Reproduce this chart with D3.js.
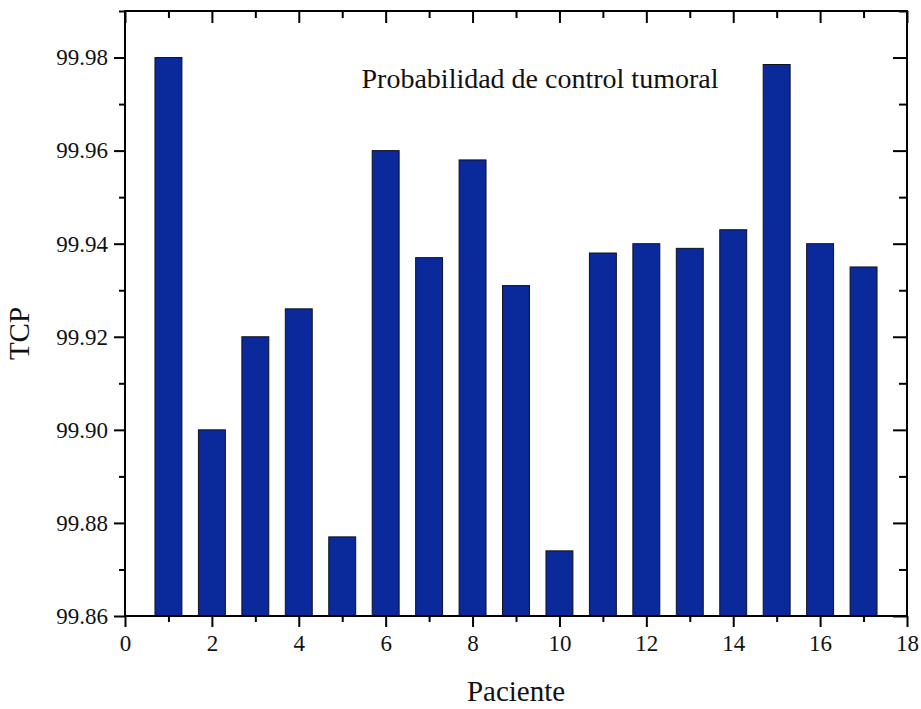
<!DOCTYPE html>
<html>
<head>
<meta charset="utf-8">
<script src="https://cdn.jsdelivr.net/npm/d3@7"></script>
<style>
  body { margin: 0; background: #fff; }
  svg { display: block; }
  svg text { font-family: "Liberation Serif", "DejaVu Serif", serif; }
  .domain { display: none; }
  .tick line { stroke: #000; stroke-width: 2; }
</style>
</head>
<body>
<div id="chart"></div>
<script>
// TCP per patient
const pacientes = [1, 2, 3, 4, 5, 6, 7, 8, 9, 10, 11, 12, 13, 14, 15, 16, 17];
const tcp = [99.980, 99.900, 99.920, 99.926, 99.877, 99.960, 99.937, 99.958, 99.931,
             99.874, 99.938, 99.940, 99.939, 99.943, 99.9785, 99.940, 99.935];
const xMajor = [0, 2, 4, 6, 8, 10, 12, 14, 16, 18];
const xMinor = [1, 3, 5, 7, 9, 11, 13, 15, 17];
const yMajor = [99.86, 99.88, 99.90, 99.92, 99.94, 99.96, 99.98];
const yMinor = [99.87, 99.89, 99.91, 99.93, 99.95, 99.97, 99.99];

(function () {
  const W = 921, H = 709;
  const margin = { top: 11, right: 14, bottom: 93, left: 125 };
  const width = W - margin.left - margin.right;
  const height = H - margin.top - margin.bottom;
  const serifFont = '"Liberation Serif", "DejaVu Serif", serif';

  const svg = d3.select("#chart").append("svg")
    .attr("width", W).attr("height", H);
  const g = svg.append("g")
    .attr("transform", `translate(${margin.left},${margin.top})`);

  const x = d3.scaleLinear().domain([0, 18]).range([0, width]);
  const y = d3.scaleLinear().domain([99.86, 99.99]).range([height, 0]);
  const barW = x(0.62) - x(0);

  g.selectAll(".bar")
    .data(pacientes)
    .join("rect")
    .attr("class", "bar")
    .attr("x", (d) => x(d) - barW / 2)
    .attr("y", (d, i) => y(tcp[i]))
    .attr("width", barW)
    .attr("height", (d, i) => height - y(tcp[i]))
    .attr("fill", "#0a2a9c")
    .attr("stroke", "#101020")
    .attr("stroke-width", 1);

  const labelStyle = (a) => a.selectAll("text")
    .attr("font-family", serifFont)
    .attr("font-size", "23px")
    .attr("fill", "#111");

  // bottom / left: outward ticks with labels
  g.append("g").attr("transform", `translate(0,${height})`)
    .call(d3.axisBottom(x).tickValues(xMajor).tickSize(11).tickPadding(8).tickFormat(d3.format("d")))
    .call(labelStyle);
  g.append("g").attr("transform", `translate(0,${height})`)
    .call(d3.axisBottom(x).tickValues(xMinor).tickSize(6).tickFormat(""));

  g.append("g")
    .call(d3.axisLeft(y).tickValues(yMajor).tickSize(11).tickPadding(6).tickFormat(d3.format(".2f")))
    .call(labelStyle);
  g.append("g")
    .call(d3.axisLeft(y).tickValues(yMinor).tickSize(6).tickFormat(""));

  // top / right: inward ticks, no labels
  g.append("g")
    .call(d3.axisTop(x).tickValues(xMajor).tickSize(-12).tickFormat(""));
  g.append("g")
    .call(d3.axisTop(x).tickValues(xMinor).tickSize(-7).tickFormat(""));
  g.append("g").attr("transform", `translate(${width},0)`)
    .call(d3.axisRight(y).tickValues(yMajor).tickSize(-14).tickFormat(""));
  g.append("g").attr("transform", `translate(${width},0)`)
    .call(d3.axisRight(y).tickValues(yMinor).tickSize(-8).tickFormat(""));

  // frame
  g.append("rect")
    .attr("width", width).attr("height", height)
    .attr("fill", "none").attr("stroke", "#000").attr("stroke-width", 2);

  g.append("text")
    .attr("x", 415).attr("y", 77)
    .attr("text-anchor", "middle")
    .attr("font-family", serifFont)
    .attr("font-size", "28px")
    .attr("fill", "#111")
    .text("Probabilidad de control tumoral");

  svg.append("text")
    .attr("x", margin.left + width / 2).attr("y", 701)
    .attr("text-anchor", "middle")
    .attr("font-family", serifFont)
    .attr("font-size", "29px")
    .attr("fill", "#111")
    .text("Paciente");

  svg.append("text")
    .attr("transform", `translate(29,${margin.top + height / 2 + 20}) rotate(-90)`)
    .attr("text-anchor", "middle")
    .attr("font-family", serifFont)
    .attr("font-size", "29px")
    .attr("fill", "#111")
    .text("TCP");
})();
</script>
</body>
</html>
